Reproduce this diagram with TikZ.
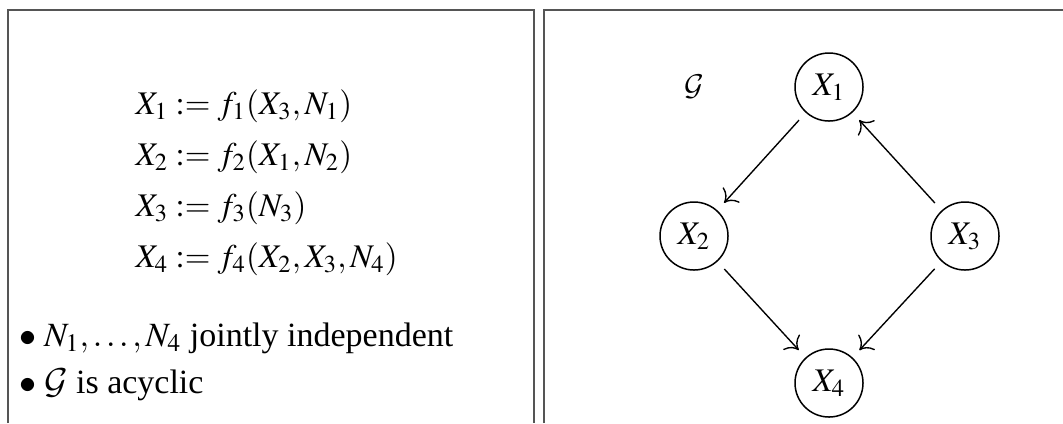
\documentclass[tikz,border=0pt]{standalone}
\usepackage{mathptmx}
\usepackage[no-math]{fontspec}
\setmainfont{Liberation Serif}
\DeclareMathAlphabet{\mathcal}{OMS}{cmsy}{m}{n}
\usetikzlibrary{arrows.meta, positioning}
\definecolor{framegray}{HTML}{555555}

\begin{document}
\begin{tikzpicture}[
    x=0.4pt, y=-0.4pt,
    font=\fontsize{13.2}{15}\selectfont,
    var/.style={circle, draw, line width=0.6pt, minimum size=27.2pt, inner sep=0pt},
    arrow/.style={-{To[length=4.5pt,width=9pt]}, line width=0.55pt, shorten >=4pt, shorten <=4pt},
    frame/.style={draw=framegray, line width=0.9pt},
    eq/.style={anchor=base west, inner sep=0pt}
]
    \useasboundingbox (0,0) rectangle (1063,423);
    % Panels
    \draw[frame] (8,423) -- (8,10) -- (534,10) -- (534,423);
    \draw[frame] (544,423) -- (544,10) -- (1063,10);

    % Structural equations
    \node[eq] (eq1) at (135,114) {$X_1 := f_1(X_3,N_1)$};
    \node[eq] (eq2) at (135,165) {$X_2 := f_2(X_1,N_2)$};
    \node[eq] (eq3) at (135,216) {$X_3 := f_3(N_3)$};
    \node[eq] (eq4) at (135,267) {$X_4 := f_4(X_2,X_3,N_4)$};

    % Assumptions
    \node[eq, font=\fontsize{13.6}{15}\selectfont] (noise) at (19,346) {$\bullet\;N_1,\ldots,N_4$ jointly independent};
    \node[eq, font=\fontsize{13.6}{15}\selectfont] (acyc) at (19,393) {$\bullet\;\mathcal{G}$ is acyclic};

    % Graph
    \node (glabel) at (694,87) {$\mathcal{G}$};
    \node[var] (x1) at (829,87) {$X_1$};
    \node[var] (x2) at (694,236) {$X_2$};
    \node[var] (x3) at (965,236) {$X_3$};
    \node[var] (x4) at (829,383) {$X_4$};

    % Edges
    \draw[arrow] (x1) -- (x2);
    \draw[arrow] (x3) -- (x1);
    \draw[arrow] (x2) -- (x4);
    \draw[arrow] (x3) -- (x4);
\end{tikzpicture}
\end{document}
